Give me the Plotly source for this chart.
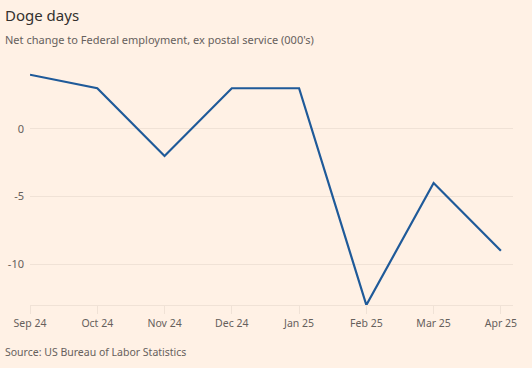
import plotly.graph_objects as go

months = ["Sep 24", "Oct 24", "Nov 24", "Dec 24", "Jan 25", "Feb 25", "Mar 25", "Apr 25"]
change = [4, 3, -2, 3, 3, -13, -4, -9]
y_ticks = [0, -5, -10]
y_ticklabels = ["0", "-5", "-10"]

BG = "#FFF1E5"
GRID = "#F0E2D6"
TXT = "#66605C"
FONT = "Noto Sans"

W, H = 532, 368
ML, MR, MT, MB = 30, 19, 72, 63
PW, PH = W - ML - MR, H - MT - MB


def px_x(x):
    return (x - ML) / PW


def px_y(y):
    return (H - MB - y) / PH


fig = go.Figure()
fig.add_trace(go.Scatter(
    x=list(range(len(months))), y=change, mode="lines",
    line=dict(color="#1F5A99", width=2.2), hoverinfo="skip",
))

fig.update_layout(
    width=W, height=H,
    paper_bgcolor=BG, plot_bgcolor=BG,
    margin=dict(l=ML, r=MR, t=MT, b=MB),
    showlegend=False,
    font=dict(family=FONT, color=TXT, size=11),
    xaxis=dict(
        tickmode="array", tickvals=list(range(len(months))), ticktext=months,
        range=[0, 7.18], showgrid=False, zeroline=False, automargin=False,
        showline=True, linecolor=GRID, linewidth=1,
        ticks="outside", ticklen=8, tickcolor=GRID, tickwidth=1,
        tickfont=dict(family=FONT, color=TXT, size=10.5),
    ),
    yaxis=dict(
        tickmode="array", tickvals=y_ticks, ticktext=y_ticklabels,
        range=[-13, 4.2], showgrid=True, gridcolor=GRID, gridwidth=1,
        zeroline=False, showline=False, ticks="", automargin=False,
        ticklabelstandoff=5,
        tickfont=dict(family=FONT, color=TXT, size=11),
    ),
    annotations=[
        dict(text="Doge days", x=px_x(3), y=px_y(15), xref="paper", yref="paper",
             showarrow=False, xanchor="left", yanchor="middle",
             font=dict(family=FONT, size=15, color="#33302E")),
        dict(text="Net change to Federal employment, ex postal service (000's)",
             x=px_x(3), y=px_y(39), xref="paper", yref="paper", showarrow=False,
             xanchor="left", yanchor="middle",
             font=dict(family=FONT, size=11, color=TXT)),
        dict(text="Source: US Bureau of Labor Statistics", x=px_x(3), y=px_y(352),
             xref="paper", yref="paper", showarrow=False, xanchor="left", yanchor="middle",
             font=dict(family=FONT, size=10.5, color=TXT)),
    ],
)

fig.write_html(
    "out.html",
    config={"displayModeBar": False},
    post_script="document.body.style.margin='0';document.body.style.background='#FFF1E5';",
)
